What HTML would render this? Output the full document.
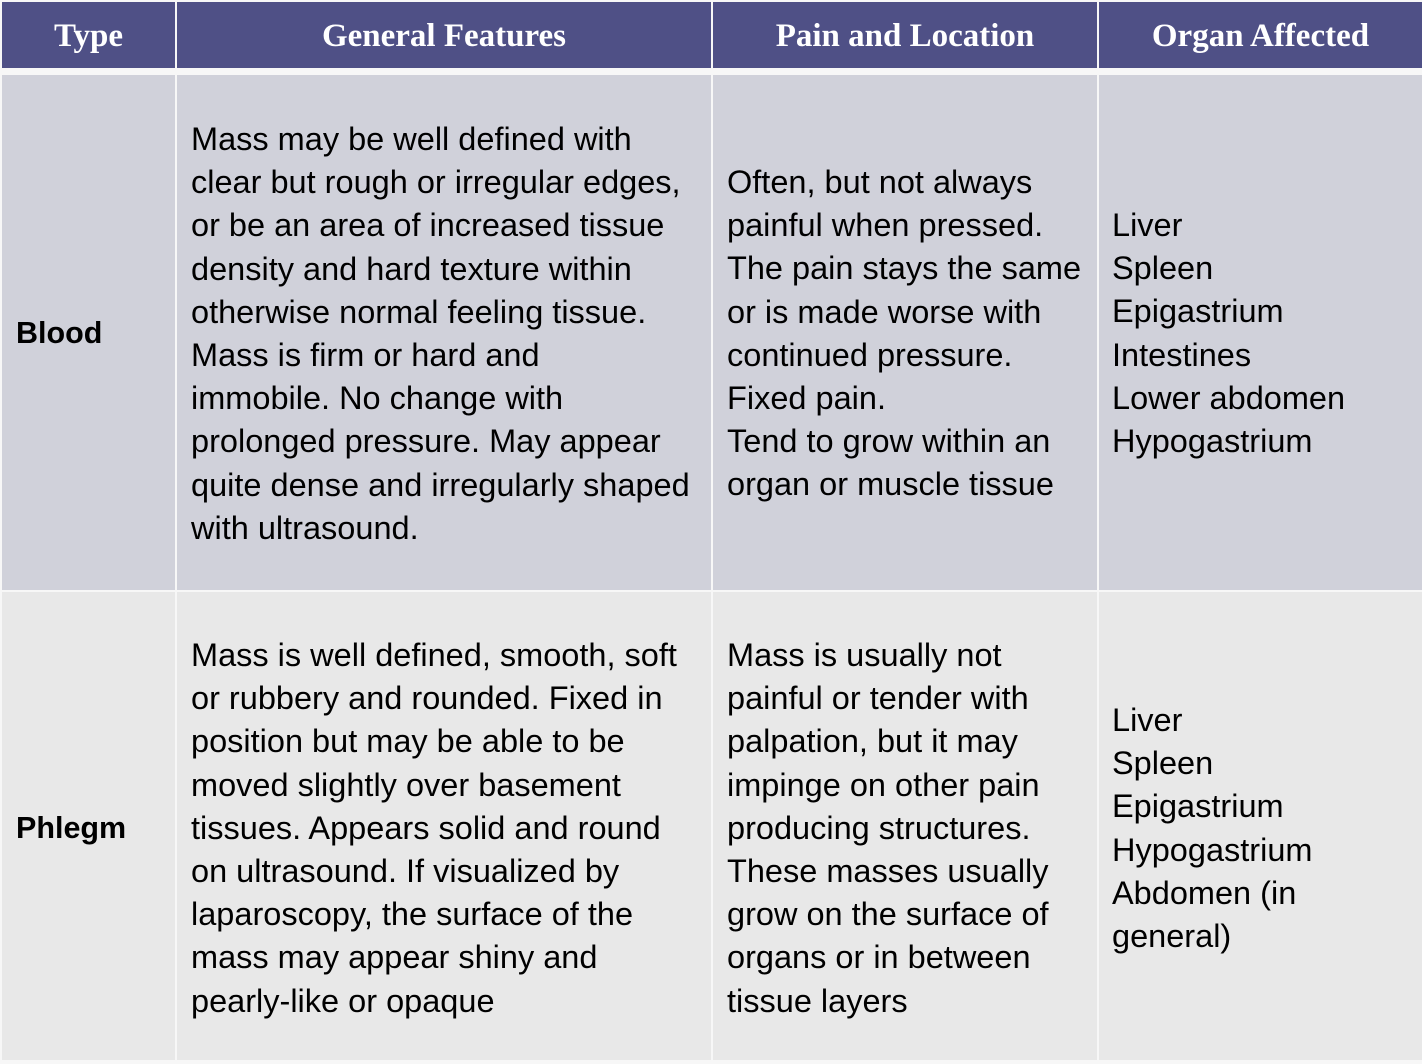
<!DOCTYPE html>
<html><head><meta charset="utf-8"><style>
body{margin:0;width:1422px;height:1064px;background:#f7f7f7;position:relative;overflow:hidden;font-family:"Liberation Sans",Arial,sans-serif}
.c{position:absolute}
.h{background:#4f5086;color:#fff;font-family:"Liberation Serif",serif;font-weight:bold;font-size:33px;display:flex;align-items:center;justify-content:center;box-sizing:border-box;padding-top:3px}
.r1{background:#d0d1da}.r2{background:#e8e8e8}
.t{position:absolute;font-size:32.5px;line-height:43.2px;color:#000;white-space:nowrap}
.b{font-weight:bold;font-size:30.5px}
</style></head><body>
<div class="c h" style="left:2px;top:2px;width:173px;height:66px">Type</div>
<div class="c h" style="left:177px;top:2px;width:534px;height:66px">General Features</div>
<div class="c h" style="left:713px;top:2px;width:384px;height:66px">Pain and Location</div>
<div class="c h" style="left:1099px;top:2px;width:323px;height:66px">Organ Affected</div>

<div class="c r1" style="left:2px;top:75px;width:173px;height:515px"></div>
<div class="c r1" style="left:177px;top:75px;width:534px;height:515px"></div>
<div class="c r1" style="left:713px;top:75px;width:384px;height:515px"></div>
<div class="c r1" style="left:1099px;top:75px;width:323px;height:515px"></div>

<div class="c r2" style="left:2px;top:592px;width:173px;height:468px"></div>
<div class="c r2" style="left:177px;top:592px;width:534px;height:468px"></div>
<div class="c r2" style="left:713px;top:592px;width:384px;height:468px"></div>
<div class="c r2" style="left:1099px;top:592px;width:323px;height:468px"></div>

<div class="t b" style="left:16px;top:312px">Blood</div>
<div class="t" style="left:191px;top:118px">Mass may be well defined with<br>clear but rough or irregular edges,<br>or be an area of increased tissue<br>density and hard texture within<br>otherwise normal feeling tissue.<br>Mass is firm or hard and<br>immobile. No change with<br>prolonged pressure. May appear<br>quite dense and irregularly shaped<br>with ultrasound.</div>
<div class="t" style="left:727px;top:161px">Often, but not always<br>painful when pressed.<br>The pain stays the same<br>or is made worse with<br>continued pressure.<br>Fixed pain.<br>Tend to grow within an<br>organ or muscle tissue</div>
<div class="t" style="left:1112px;top:204px">Liver<br>Spleen<br>Epigastrium<br>Intestines<br>Lower abdomen<br>Hypogastrium</div>

<div class="t b" style="left:16px;top:807px">Phlegm</div>
<div class="t" style="left:191px;top:634px">Mass is well defined, smooth, soft<br>or rubbery and rounded. Fixed in<br>position but may be able to be<br>moved slightly over basement<br>tissues. Appears solid and round<br>on ultrasound. If visualized by<br>laparoscopy, the surface of the<br>mass may appear shiny and<br>pearly-like or opaque</div>
<div class="t" style="left:727px;top:634px">Mass is usually not<br>painful or tender with<br>palpation, but it may<br>impinge on other pain<br>producing structures.<br>These masses usually<br>grow on the surface of<br>organs or in between<br>tissue layers</div>
<div class="t" style="left:1112px;top:699px">Liver<br>Spleen<br>Epigastrium<br>Hypogastrium<br>Abdomen (in<br>general)</div>
</body></html>
